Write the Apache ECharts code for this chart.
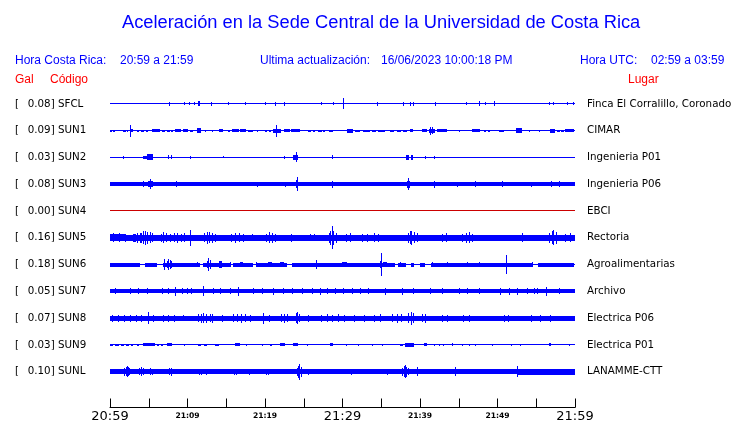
<!DOCTYPE html>
<html><head><meta charset="utf-8">
<script src="https://cdn.jsdelivr.net/npm/echarts@6/dist/echarts.min.js"></script>
<style>html,body{margin:0;padding:0;background:#fff}#c{width:740px;height:423px}</style>
</head><body><div id="c"></div>
<script>
// ---------- data ----------
const stationCodes = ['SFCL','SUN1','SUN2','SUN3','SUN4','SUN5','SUN6','SUN7','SUN8','SUN9','SUNL'];
const galValues = [0.08,0.09,0.03,0.08,0.00,0.16,0.18,0.05,0.07,0.03,0.10];
const placeNames = ['Finca El Corralillo, Coronado','CIMAR','Ingenieria P01','Ingenieria P06','EBCI','Rectoria','Agroalimentarias','Archivo','Electrica P06','Electrica P01','LANAMME-CTT'];
const tickLabels = ['20:59','21:09','21:19','21:29','21:39','21:49','21:59'];
const headerTexts = ['Hora Costa Rica:','20:59 a 21:59','Ultima actualización:','16/06/2023 10:00:18 PM','Hora UTC:','02:59 a 03:59'];
const columnTexts = ['Gal','Código','Lugar'];
const titleText = 'Aceleración en la Sede Central de la Universidad de Costa Rica';
// minutes after 20:59 ; amplitude in trace units (27 units = spacing between traces)
const baseAmplitudes = [0.5,0.5,0.5,2,0.5,3,0.5,2,2.5,0.5,2.5];
// bursts: [startMinute, endMinute, amplitude]
const burstsSFCL = [[7.66,7.66,2],[9.55,9.55,1.5],[10.24,10.24,1.5],[10.88,10.88,1.5],[11.35,11.55,2.5],[13.08,13.08,2],[15.27,15.27,1.5],[17.39,17.39,1.5],[20.05,20.05,1.5],[21.3,21.3,2],[22.43,22.43,2],[27.2,27.2,1.5],[28.8,28.8,1.5],[30.12,30.12,5.5],[34.5,34.5,2],[37.8,37.8,2],[38.7,38.75,2],[39.05,39.1,2],[41.96,41.96,2],[45.96,45.96,1.5],[47.6,47.75,2.5],[48.42,48.42,1.5],[49.55,49.7,2.5],[56.7,56.7,1.5],[57.1,57.1,1.5],[58.97,58.97,1.5],[59.7,59.7,1.5]];
const burstsSUN1 = [[0,0.25,1],[0.45,0.65,1],[1.72,2.0,1],[2.15,2.37,1],[2.58,2.58,6],[2.65,3.0,1.5],[3.44,3.8,1],[4.0,4.4,1],[4.6,4.95,1],[5.38,6.46,1.5],[6.67,7.1,1],[7.3,7.7,1],[7.9,8.17,1],[8.39,9.2,1.5],[9.4,10.1,1.5],[10.3,10.76,1],[11.27,11.71,2.5],[12.27,12.27,1],[13.13,13.13,1],[14,14.55,1.5],[15.2,15.5,1],[15.7,16.6,1.5],[16.8,17.6,1.5],[17.8,18.5,1],[18.94,18.94,1],[20.0,20.3,1],[20.5,20.75,1],[21.08,22.04,2],[21.43,21.43,6],[22.4,23.2,1.5],[23.4,24.5,1.5],[25.6,25.9,1],[26.2,26.47,1],[26.9,27.3,1],[27.5,27.76,1],[28.2,28.8,1],[30.56,31.4,2],[31.6,32.3,1],[32.6,33.57,1],[33.8,34.3,1],[34.6,35.5,1],[36.15,36.7,1],[37.0,37.5,1],[37.8,38.3,1],[38.65,39.16,1.5],[40.24,40.9,1.5],[41.1,41.96,2],[41.3,41.3,4],[41.6,41.6,3.5],[42.2,43.47,1.5],[44.97,44.97,1],[46.7,47.77,1.5],[48.2,48.5,1],[48.8,49.06,1],[50.14,50.78,1],[52.33,53.16,2.5],[54.0,54.0,1],[55.3,55.3,1],[56.72,57.46,2],[57.67,58.0,1],[58.2,58.53,1],[58.75,59.9,1.5]];
const burstsSUN2 = [[1.64,1.64,1.5],[4.3,4.74,1.5],[4.74,5.5,3],[7.5,7.65,2],[7.85,7.96,2],[10.33,10.33,1.5],[14.55,14.55,1],[22.5,22.5,1.5],[23.67,24.3,2.5],[24.0,24.0,5],[28.62,28.62,2],[38.2,38.55,2.5],[38.8,39.1,2.5],[40.67,40.67,1.5],[41.75,41.75,1.5]];
const burstsSUN3 = [[4.3,4.3,3],[4.95,5.5,3],[5.1,5.1,5],[8.52,8.52,3],[18.94,18.94,2.5],[22.6,22.6,2.5],[24.0,24.2,4],[24.1,24.1,7],[28.62,28.62,3.5],[38.3,38.65,3.5],[38.4,38.4,6],[41.75,41.75,3.5],[44.76,44.76,2.5],[47.04,47.04,3],[50.57,50.57,3],[54.36,54.36,2.5],[56.9,56.9,3],[57.9,57.9,3]];
const burstsSUN4 = [];
const burstsSUN5 = [[0,2.1,3.5],[0.4,0.4,4.5],[1.2,1.2,4.5],[1.9,1.9,4],[3.0,3.3,4],[3.5,3.5,5],[3.9,4.1,5],[4.2,4.2,6.5],[4.5,4.5,7],[4.8,4.8,6],[5.1,5.1,5.5],[5.4,5.4,4.5],[6.6,6.6,4],[6.9,6.9,5.5],[7.2,7.2,4.5],[7.8,7.8,4],[8.3,8.3,4.5],[8.7,8.7,5],[9.1,9.1,4],[9.6,9.6,4.5],[10.33,10.33,8],[12.1,12.1,4.5],[12.5,12.5,6],[12.8,12.8,5.5],[13.2,13.2,5],[13.6,13.6,4],[15.6,15.6,4],[16.1,16.1,5],[16.6,16.6,4.5],[17.1,17.1,4],[18.3,18.3,3.5],[20.1,20.1,4],[20.5,20.5,5.5],[20.9,20.9,5],[21.3,21.3,4],[23.4,23.4,4],[25.8,25.8,3.5],[26.3,26.3,3.5],[28.2,28.2,5],[28.4,28.4,7],[28.6,28.6,11.5],[28.8,28.8,7],[29.1,29.1,5],[30.5,30.5,4],[31.0,31.0,4.5],[32.5,32.5,4],[33.2,33.2,4],[34.0,34.0,4.5],[34.6,34.6,4],[38.4,38.4,5],[38.7,38.7,6.5],[38.9,38.9,7],[39.2,39.2,5.5],[39.6,39.6,4.5],[42.8,42.8,4],[43.3,43.3,4.5],[45.4,45.4,4],[45.9,45.9,5],[46.3,46.3,5.5],[46.7,46.7,4],[53.2,53.2,4.5],[56.7,56.7,5],[57.0,57.0,6.5],[57.2,57.2,7.5],[57.5,57.5,6],[58.7,58.7,4],[59.3,59.3,4.5]];
const burstsSUN6 = [[0,3.9,2],[4.5,6.0,2],[6.9,11.6,2],[12,15.5,2],[15.9,18.5,2],[18.9,22.8,2],[23.5,36.8,2],[37.2,38.2,2],[38.8,39.2,2],[40.0,40.7,2],[41.4,54.6,2],[55.2,59.9,2],[7.0,7.0,6],[7.3,7.3,4],[7.5,7.5,5.5],[7.7,7.7,4.5],[7.9,7.9,3.5],[11.2,11.2,3],[12.5,12.5,4],[12.7,12.7,6.5],[12.9,12.9,4.5],[14,14.4,3.5],[15.5,15.5,3],[16.8,17.2,3],[18.9,18.9,3],[20.4,20.9,3],[21.9,22.4,2.5],[26.6,26.6,5],[29.9,30.6,3],[34.8,35.1,3.5],[34.95,34.95,11.5],[35.2,35.7,3],[37.4,37.4,2.5],[41.5,41.5,3],[43.5,43.5,3],[46.06,46.06,3],[47.55,47.55,3],[51.13,51.13,10],[54.4,54.4,3]];
const burstsSUN7 = [[0.65,0.75,3],[2.58,2.68,3],[3.66,3.76,3],[4.73,4.83,3],[6.67,6.77,3],[7.53,7.63,3],[8.39,8.45,4.5],[9.25,9.35,3],[9.9,10.0,3],[10.5,10.6,3],[12.05,12.15,5],[13.34,13.44,3],[14.2,14.3,3],[15.5,15.6,3],[16.57,16.67,4.5],[18.5,18.6,3],[19.58,19.68,3],[21.08,21.18,3.5],[22.38,22.48,3],[23.46,23.56,3],[24.75,24.85,3],[26.04,26.14,3],[27.11,27.21,3.5],[27.98,28.08,3],[29.05,29.15,3],[30.12,30.22,3],[31.2,31.3,3],[32.28,32.38,3],[33.35,33.45,3],[35.5,35.6,3.5],[37.66,37.76,3.5],[39.16,39.26,3],[41.32,41.42,3],[42.83,42.93,3],[44.97,45.07,3],[46.05,46.15,3],[47.55,47.65,3],[50.27,50.37,3.5],[51.43,51.53,3.5],[52.51,52.61,3.5],[53.8,53.9,3],[54.66,54.76,3],[55.09,55.19,3],[56.25,56.35,4.5],[57.88,57.98,3]];
const burstsSUN8 = [[0.3,0.3,3.5],[1.0,1.0,3.5],[1.8,1.8,3.5],[2.6,2.6,3.5],[3.3,3.3,3.5],[4.0,4.0,3.5],[4.95,4.95,6],[5.6,5.6,3.5],[6.8,6.8,3.5],[7.5,7.5,3.5],[8.3,8.3,3.5],[9.4,9.4,3],[11.3,11.3,4],[11.7,11.7,4.5],[12.0,12.0,5],[12.4,12.4,4.5],[12.9,12.9,4],[13.2,13.2,4.5],[14.5,14.5,3.5],[15.9,15.9,4],[16.4,16.4,4],[16.9,16.9,4.5],[17.4,17.4,4],[18.0,18.0,3.5],[19.8,19.8,5.5],[20.5,20.5,3.5],[22.0,22.0,4],[22.4,22.4,4.5],[22.8,22.8,4],[23.95,23.95,5],[24.15,24.15,6],[24.4,24.4,4],[25.6,25.6,3.5],[27.2,27.2,3.5],[28.0,28.0,4],[28.6,28.6,3.5],[29.4,29.4,4],[30.2,30.2,3.5],[31.5,31.5,3.5],[32.8,32.8,3.5],[34.0,34.0,3.5],[34.8,34.8,4],[36.4,36.4,4],[37.0,37.0,4.5],[37.6,37.6,4],[38.5,38.5,5],[38.8,38.8,6.5],[39.1,39.1,5],[40.2,40.2,4],[40.7,40.7,4.5],[42.8,42.8,3.5],[43.5,43.5,3.5],[45.5,45.5,3.5],[46.3,46.3,3.5],[50.8,50.8,3.5],[51.3,51.3,3.5],[54.3,54.3,3.5],[55.5,55.5,3.5],[56.8,56.8,3.5]];
const burstsSUN9 = [[0,0.4,1],[0.7,1.1,1],[1.4,1.8,1],[2.1,2.5,1],[2.7,3,1],[3.5,3.7,1],[4.3,5.8,1.5],[6.0,6.3,1],[6.6,6.9,1],[7.3,8.0,1.5],[9.5,9.5,1],[11.4,11.8,1],[12.1,12.5,1],[13.6,14.0,1],[16.1,16.8,1.5],[17.6,17.6,1],[19.6,19.8,1],[20.7,20.9,1],[21.9,22.6,1.5],[23.6,24.3,1.5],[25.4,25.4,1],[28.4,28.75,1.5],[30.5,30.5,1],[32,32,1],[33.8,33.8,1],[35.1,35.1,1],[37.4,37.8,1],[38.1,39.2,2],[40.5,40.9,1.5],[41.75,41.75,1],[42.4,42.4,1],[43.0,43.0,1],[44.1,44.1,1.5],[45.4,45.4,1],[46.3,46.3,1],[47.1,47.1,1],[49.3,49.3,1],[51.7,51.7,1],[52.9,52.9,1],[56.7,56.9,1.5],[59.2,59.2,1]];
const burstsSUNL = [[1.8,1.8,4],[2.0,2.0,4.5],[2.15,2.15,5.5],[2.3,2.3,4.5],[2.5,2.5,3.5],[3.7,3.7,3.5],[3.95,3.95,4.5],[4.2,4.2,3.5],[5.1,5.1,3.5],[5.4,5.4,3],[7.6,7.6,3.5],[7.85,7.85,4],[11.5,11.5,3],[11.8,11.8,3],[12.4,12.4,3],[16.0,16.0,3],[16.3,16.3,3],[17.9,17.9,3],[20.1,20.1,3],[20.4,20.4,3],[24.1,24.1,4],[24.3,24.3,6],[24.45,24.45,8],[24.6,24.6,5],[25.6,25.6,3],[31.1,31.1,3],[35.7,35.7,3],[37.7,37.7,4],[37.9,37.9,5.5],[38.05,38.05,6.5],[38.2,38.2,5],[38.4,38.4,3.5],[39.6,39.6,4.5],[44.5,44.5,4.5],[52.5,52.5,5.5],[52.5,60,3]];
const stationBursts = [burstsSFCL,burstsSUN1,burstsSUN2,burstsSUN3,burstsSUN4,burstsSUN5,burstsSUN6,burstsSUN7,burstsSUN8,burstsSUN9,burstsSUNL];
const durationMinutes = 60;

// ---------- styles ----------
const AMP_UNITS_PER_STATION = 27;
const traceColors = stationCodes.map((c, i) => galValues[i] === 0 ? '#cc0000' : '#0000ff');
const BLUE = '#0000ff', RED = '#ff0000';

const traceData = [];
stationCodes.forEach((code, i) => {
  traceData.push([0, durationMinutes, baseAmplitudes[i], i]);
  stationBursts[i].forEach(b => traceData.push([b[0], b[1], b[2], i]));
});

function renderItem(params, api) {
  const t0 = api.value(0), t1 = api.value(1), amp = api.value(2), st = api.value(3);
  const p0 = api.coord([t0, st - amp / AMP_UNITS_PER_STATION]);
  const p1 = api.coord([t1, st + amp / AMP_UNITS_PER_STATION]);
  let x0 = Math.round(Math.min(p0[0], p1[0])), x1 = Math.round(Math.max(p0[0], p1[0]));
  if (x1 - x0 < 1) x1 = x0 + 1;
  let y0 = Math.round(Math.min(p0[1], p1[1])), y1 = Math.round(Math.max(p0[1], p1[1]));
  if (y1 - y0 < 1) y1 = y0 + 1;
  return { type: 'rect', shape: { x: x0, y: y0, width: x1 - x0, height: y1 - y0 }, style: { fill: traceColors[st] } };
}

const chart = echarts.init(document.getElementById('c'), null, { renderer: 'canvas' });
const hdrFont = '12px "Liberation Sans", Arial, sans-serif';
function hdr(text, x, y, color) {
  return { type: 'text', x: x, y: y, style: { text: text, font: hdrFont, fill: color, verticalAlign: 'middle', align: 'left' }, silent: true };
}
chart.setOption({
  animation: false,
  backgroundColor: '#ffffff',
  title: {
    text: titleText, left: 122, top: 14, padding: 0,
    textStyle: { fontFamily: '"Liberation Sans", Arial, sans-serif', fontSize: 18.3, fontWeight: 'normal', color: BLUE }
  },
  graphic: [
    hdr(headerTexts[0], 15, 61, BLUE),
    hdr(headerTexts[1], 120, 61, BLUE),
    hdr(headerTexts[2], 260, 61, BLUE),
    hdr(headerTexts[3], 381, 61, BLUE),
    hdr(headerTexts[4], 580, 61, BLUE),
    hdr(headerTexts[5], 651, 61, BLUE),
    hdr(columnTexts[0], 15, 80, RED),
    hdr(columnTexts[1], 50, 80, RED),
    hdr(columnTexts[2], 628, 80, RED)
  ],
  grid: { left: 110, right: 165, top: 90.5, bottom: 35.5 },
  xAxis: {
    type: 'value', min: 0, max: durationMinutes, interval: 5, offset: 22.5,
    axisLine: { onZero: false, lineStyle: { color: '#000', width: 1 } },
    axisTick: { inside: true, length: 9, lineStyle: { color: '#000', width: 1 } },
    splitLine: { show: false },
    axisLabel: {
      margin: 2, color: '#000',
      formatter: function (v) {
        if (v % 10 !== 0) return '';
        const idx = v / 10;
        return (idx % 3 === 0) ? '{big|' + tickLabels[idx] + '}' : '{small|' + tickLabels[idx] + '}';
      },
      rich: {
        big: { fontFamily: '"DejaVu Sans"', fontSize: 13, lineHeight: 14, color: '#000' },
        small: { fontFamily: '"DejaVu Sans"', fontSize: 7.6, fontWeight: 'bold', lineHeight: 14, color: '#000' }
      }
    }
  },
  yAxis: [
    {
      type: 'category', data: stationCodes, inverse: true, position: 'left',
      axisLine: { show: false }, axisTick: { show: false }, splitLine: { show: false },
      axisLabel: {
        align: 'left', margin: 95,
        formatter: function (v, i) { return '{b|[}{v|' + galValues[i].toFixed(2) + '] ' + stationCodes[i] + '}'; },
        rich: {
          b: { width: 12.7, fontFamily: '"DejaVu Sans"', fontSize: 10.3, color: '#000' },
          v: { fontFamily: '"DejaVu Sans"', fontSize: 10.3, color: '#000' }
        }
      }
    },
    {
      type: 'category', data: placeNames, inverse: true, position: 'right',
      axisLine: { show: false }, axisTick: { show: false }, splitLine: { show: false },
      axisLabel: { align: 'left', margin: 12, fontFamily: '"DejaVu Sans"', fontSize: 10.3, color: '#000' }
    },
    { type: 'value', min: -0.5, max: stationCodes.length - 0.5, inverse: true, show: false }
  ],
  series: [{
    type: 'custom', coordinateSystem: 'cartesian2d', xAxisIndex: 0, yAxisIndex: 2,
    renderItem: renderItem, encode: { x: [0, 1], y: 3 }, data: traceData, silent: true, clip: false
  }]
});
</script></body></html>
